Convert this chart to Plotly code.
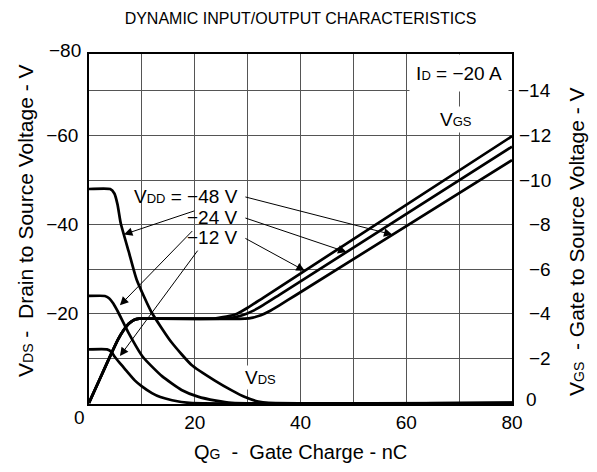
import numpy as np
import plotly.graph_objects as go

# ---------------- data ----------------
# Drain-to-source voltage curves (left axis, V) vs gate charge (nC)
q_vds_12 = [0, 3.4, 4.2, 4.9, 5.8, 6.8, 8.7, 10, 11.9, 13.5, 15.7, 19, 80]
vds_12 = [-12, -12, -11.5, -10.3, -9.0, -7.6, -5.0, -3.7, -2.2, -1.3, -0.6, 0, 0]

q_vds_24 = [0, 3, 3.8, 4.6, 5.5, 7.4, 10.2, 13.8, 17.5, 20.6, 24, 27, 80]
vds_24 = [-24, -24, -23.5, -22.3, -20.4, -15.9, -10.3, -6.0, -2.9, -1.4, -0.5, 0, 0]

q_vds_48 = [0, 4, 4.8, 5.4, 6, 7.5, 9, 11.8, 15.6, 19.4, 23.8, 27, 29.5, 32, 34, 80]
vds_48 = [-48, -48, -47, -44.5, -40.3, -34, -27.7, -20.4, -13.6, -8.5, -5.0, -2.8, -1.3, -0.3, 0, 0]

# Gate-to-source voltage curves (right axis, V)
q_vgs_12 = [0, 2, 4, 5.5, 6.5, 7.5, 8.5, 9.5, 11, 22, 24, 26, 28, 30, 33, 80]
vgs_12 = [0, -1.05, -2.1, -2.85, -3.25, -3.55, -3.72, -3.78, -3.78, -3.78, -3.8, -3.87, -4.0, -4.27, -4.73, -11.97]

q_vgs_24 = [0, 2, 4, 5.5, 6.5, 7.5, 8.5, 9.5, 11, 25, 27, 29, 31, 33, 36, 80]
vgs_24 = [0, -1.05, -2.1, -2.85, -3.25, -3.55, -3.72, -3.78, -3.78, -3.78, -3.82, -3.93, -4.13, -4.4, -4.85, -11.5]

q_vgs_48 = [0, 2, 4, 5.5, 6.5, 7.5, 8.5, 9.5, 11, 29.5, 31, 32.5, 34, 36, 39, 80]
vgs_48 = [0, -1.05, -2.1, -2.85, -3.25, -3.55, -3.72, -3.78, -3.78, -3.78, -3.83, -3.93, -4.1, -4.38, -4.82, -10.9]

# axes / ticks
x_grid = [0, 10, 20, 30, 40, 50, 60, 70, 80]
x_labels = ["", "", "20", "", "40", "", "60", "", "80"]
left_ticks = [-20, -40, -60]
left_top_label = -80
right_ticks = [0, -2, -4, -6, -8, -10, -12, -14]
left_range = [0.25, -78.3]
right_range = [0.05, -15.66]

# VDD labels and arrow geometry (data units)
vdd_labels = ["V<span style='font-size:13px'>DD</span> = \u221248 V", "\u221224 V", "\u221212 V"]
vdd_label_y = [-46.3, -41.6, -37.1]
vdd_label_x = 28.6
left_arrow_tail = [(20.2, -43.2), (19.8, -38.9), (20.75, -34.5)]
left_arrow_tip = [(6.6, -37.8), (5.85, -21.9), (5.85, -10.5)]
right_arrow_tip_q = [57.4, 48.7, 40.8]

FONT = "Liberation Sans, Arial, Helvetica, sans-serif"
GRID = "#555555"


def minus(v):
    return ("\u2212" + str(abs(v))) if v < 0 else str(v)


fig = go.Figure()
line_style = dict(color="black", width=2.7, shape="spline", smoothing=0.5)
for q, v in [(q_vds_12, vds_12), (q_vds_24, vds_24), (q_vds_48, vds_48)]:
    fig.add_trace(go.Scatter(x=q, y=v, mode="lines", line=line_style,
                             yaxis="y", hoverinfo="skip", showlegend=False))
for q, v in [(q_vgs_12, vgs_12), (q_vgs_24, vgs_24), (q_vgs_48, vgs_48)]:
    fig.add_trace(go.Scatter(x=q, y=v, mode="lines", line=line_style,
                             yaxis="y2", hoverinfo="skip", showlegend=False))

ratio = left_range[1] / right_range[1]
annotations = []

# VDD labels
for txt, y in zip(vdd_labels, vdd_label_y):
    annotations.append(dict(x=vdd_label_x, y=y, xref="x", yref="y", text=txt,
                            showarrow=False, xanchor="right", yanchor="middle",
                            font=dict(size=19)))
# left arrows -> VDS curves
for (tx, ty), (hx, hy) in zip(left_arrow_tail, left_arrow_tip):
    annotations.append(dict(x=hx, y=hy, xref="x", yref="y", ax=tx, ay=ty,
                            axref="x", ayref="y", text="", showarrow=True,
                            arrowhead=2, arrowsize=1.7, arrowwidth=1, arrowcolor="black"))
# right arrows -> VGS curves
vgs_sets = [(q_vgs_48, vgs_48), (q_vgs_24, vgs_24), (q_vgs_12, vgs_12)]
for tq, (q, v), ly in zip(right_arrow_tip_q, vgs_sets, vdd_label_y):
    tip_y = float(np.interp(tq, q, v)) * ratio
    annotations.append(dict(x=tq, y=tip_y, xref="x", yref="y", ax=vdd_label_x + 0.7, ay=ly,
                            axref="x", ayref="y", text="", showarrow=True,
                            arrowhead=2, arrowsize=1.7, arrowwidth=1, arrowcolor="black"))

# curve labels
annotations.append(dict(x=69.4, y=-12.7, xref="x", yref="y2",
                        text="V<span style='font-size:13px'>GS</span>", showarrow=False,
                        bgcolor="white", borderpad=2, font=dict(size=19)))
annotations.append(dict(x=32.5, y=-1.16, xref="x", yref="y2",
                        text="V<span style='font-size:13px'>DS</span>", showarrow=False,
                        bgcolor="white", borderpad=1, font=dict(size=19)))
annotations.append(dict(x=70, y=-14.8, xref="x", yref="y2",
                        text="I<span style='font-size:13px'>D</span> = \u221220 A", showarrow=False,
                        bgcolor="white", width=96, height=34, font=dict(size=19)))

# right-axis tick labels (right aligned)
for v in right_ticks:
    annotations.append(dict(x=1, y=v, xref="paper", yref="y2", text=minus(v),
                            showarrow=False, xanchor="right", yanchor="middle",
                            xshift=27 if v == 0 else 41, yshift=3 if v == 0 else 0,
                            font=dict(size=19)))
# top-left label and corner zero
annotations.append(dict(x=0, y=1, xref="paper", yref="paper", text=minus(left_top_label),
                        showarrow=False, xanchor="right", yanchor="middle",
                        xshift=-6, yshift=4, font=dict(size=19)))
annotations.append(dict(x=0, y=0, xref="x", yref="paper", text="0",
                        showarrow=False, xanchor="center", yanchor="middle",
                        xshift=-10, yshift=-13, font=dict(size=19)))

# axis titles
annotations.append(dict(x=0, y=0.523, xref="paper", yref="paper",
                        text="V<span style='font-size:14px'>DS</span>&nbsp;-&nbsp;&nbsp;Drain to Source Voltage - V",
                        textangle=-90, showarrow=False, xanchor="center", yanchor="middle",
                        xshift=-63, font=dict(size=21)))
annotations.append(dict(x=1, y=0.463, xref="paper", yref="paper",
                        text="V<span style='font-size:14px'>GS</span>&nbsp; - Gate to Source Voltage - V",
                        textangle=-90, showarrow=False, xanchor="center", yanchor="middle",
                        xshift=65, font=dict(size=21)))
annotations.append(dict(x=0.5, y=0, xref="paper", yref="paper",
                        text="Q<span style='font-size:14px'>G</span>&nbsp; -&nbsp; Gate Charge - nC",
                        showarrow=False, xanchor="center", yanchor="middle",
                        yshift=-48, font=dict(size=20)))

fig.update_layout(
    width=597, height=472,
    margin=dict(l=89, r=85, t=54, b=68),
    paper_bgcolor="white", plot_bgcolor="white",
    font=dict(family=FONT, size=19, color="black"),
    title=dict(text="DYNAMIC INPUT/OUTPUT CHARACTERISTICS", x=0.5, xanchor="center",
               xref="paper", y=1 - 18 / 472, yanchor="middle", yref="container",
               font=dict(size=16, color="black")),
    xaxis=dict(range=[0, 80], tickvals=x_grid, ticktext=x_labels, showgrid=True,
               gridcolor=GRID, gridwidth=1, zeroline=False, showline=True,
               linecolor="black", linewidth=1.5, mirror=True, ticks="",
               tickfont=dict(size=19)),
    yaxis=dict(range=left_range, tickvals=left_ticks,
               ticktext=[minus(v) for v in left_ticks], showgrid=False, zeroline=False,
               showline=True, linecolor="black", linewidth=1.5, mirror=True, ticks="",
               ticklabelstandoff=5, tickfont=dict(size=19)),
    yaxis2=dict(range=right_range, overlaying="y", side="right", tickvals=right_ticks[1:],
                showticklabels=False, showgrid=True, gridcolor=GRID, gridwidth=1,
                zeroline=False, showline=False, ticks=""),
    annotations=annotations,
    showlegend=False,
)

fig.write_html("out.html")
